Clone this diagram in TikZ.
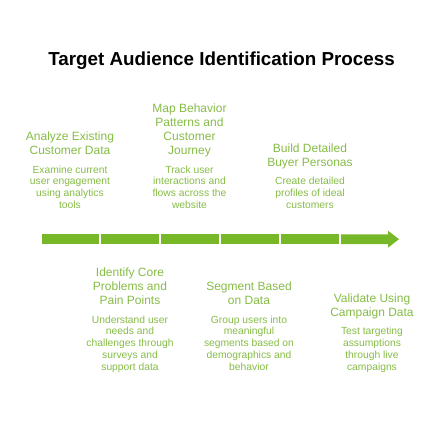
\documentclass[tikz,border=0pt]{standalone}
\usepackage{fontspec}
\setmainfont{Liberation Sans}
\definecolor{headgreen}{RGB}{134,188,70}
\definecolor{descgreen}{RGB}{134,188,70}
\definecolor{arrowgreen}{RGB}{118,184,40}
\begin{document}
\begin{tikzpicture}[x=1pt,y=-1pt,
  titlestyle/.style={font=\fontsize{18.8}{22}\selectfont\bfseries, text=black, inner sep=0pt},
  headstyle/.style={font=\fontsize{12}{14}\selectfont, text=headgreen, align=center, inner sep=0pt, anchor=north},
  descstyle/.style={font=\fontsize{10.3}{11.7}\selectfont, text=descgreen, align=center, inner sep=0pt, anchor=north},
  seg/.style={fill=arrowgreen, draw=none}]
\useasboundingbox (0,0) rectangle (439,422);
\node[titlestyle] (title) at (221.5,61) {Target Audience Identification Process};
% top row
\node[headstyle] (h1) at (70,132) {Analyze Existing\\Customer Data};
\node[descstyle] (d1) at (70,165.6) {Examine current\\user engagement\\using analytics\\tools};
\node[headstyle] (h2) at (189.5,104) {Map Behavior\\Patterns and\\Customer\\Journey};
\node[descstyle] (d2) at (189.5,165.6) {Track user\\interactions and\\flows across the\\website};
\node[headstyle] (h3) at (310,143.6) {Build Detailed\\Buyer Personas};
\node[descstyle] (d3) at (310,177.3) {Create detailed\\profiles of ideal\\customers};
% bottom row
\node[headstyle] (h4) at (130,268) {Identify Core\\Problems and\\Pain Points};
\node[descstyle] (d4) at (130,315.6) {Understand user\\needs and\\challenges through\\surveys and\\support data};
\node[headstyle] (h5) at (249,282) {Segment Based\\on Data};
\node[descstyle] (d5) at (249,315.6) {Group users into\\meaningful\\segments based on\\demographics and\\behavior};
\node[headstyle] (h6) at (372,294) {Validate Using\\Campaign Data};
\node[descstyle] (d6) at (372,327.3) {Test targeting\\assumptions\\through live\\campaigns};
% arrow
\fill[seg] (42,234.3) rectangle (99,244);
\fill[seg] (101,234.3) rectangle (159,244);
\fill[seg] (161,234.3) rectangle (219,244);
\fill[seg] (221,234.3) rectangle (279,244);
\fill[seg] (281,234.3) rectangle (339,244);
\fill[seg] (341,234.3) -- (388,234.3) -- (388,230.7) -- (399,239.2) -- (388,247.7) -- (388,244) -- (341,244) -- cycle;
\end{tikzpicture}
\end{document}
